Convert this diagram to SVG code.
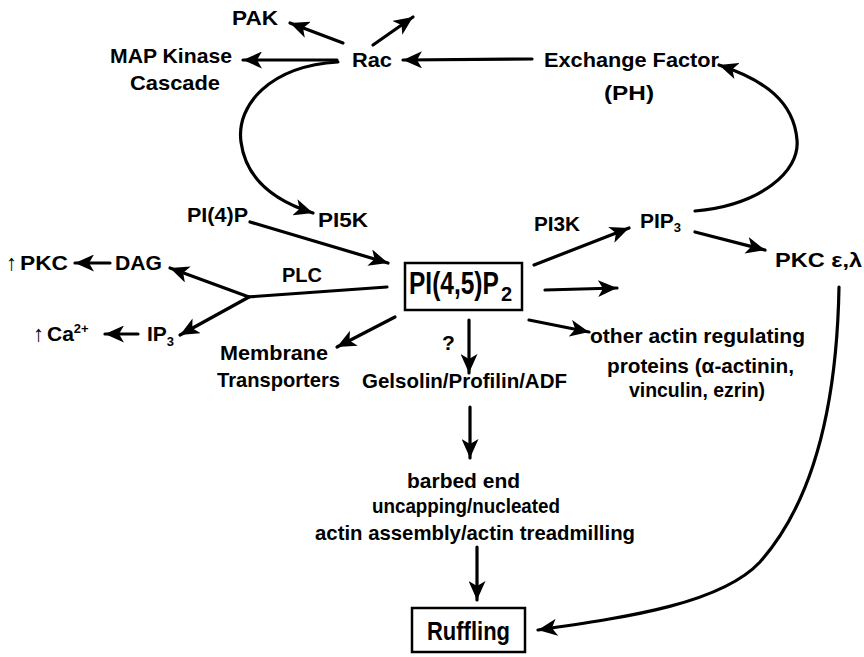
<svg xmlns="http://www.w3.org/2000/svg" width="864" height="657" viewBox="0 0 864 657">
  <style>
    .t { font-family: "Liberation Sans", Arial, sans-serif; font-weight: bold; font-size: 21px; fill: #000; }
    .big { font-size: 31px; }
    .ruf { font-size: 25px; }
    .sub { font-size: 13px; }
    .sub2 { font-size: 20px; }
    .arr { font-size: 22px; }
    .box { fill: #fff; stroke: #000; stroke-width: 2.5; }
    .c { fill: none; stroke: #000; stroke-width: 3.2; stroke-linecap: round; }
    .c path, .c line { marker-end: url(#ah); }
    .c .plain { marker-end: none; }
  </style>
  <defs>
    <marker id="ah" markerUnits="userSpaceOnUse" markerWidth="21" markerHeight="17" viewBox="0 0 21 17" refX="19" refY="8.5" orient="auto">
      <path d="M0,0 L19,8.5 L0,17 L5,8.5 z" fill="#000"/>
    </marker>
  </defs>
  <rect width="864" height="657" fill="#fff"/>

  <!-- connectors -->
  <g id="connectors" class="c">
    <line x1="343" y1="43" x2="290" y2="23"/>
    <line x1="373" y1="45" x2="413" y2="17"/>
    <line x1="337" y1="60" x2="243" y2="60"/>
    <line x1="532" y1="59" x2="403" y2="60"/>
    <path d="M338,62 C270,66 236,105 241,142 C246,180 275,201 313,213"/>
    <path d="M695,211 C760,205 800,172 797,140 C794,102 765,80 719,65"/>
    <line x1="250" y1="222" x2="388" y2="263"/>
    <path class="plain" d="M387,287 L247,297"/>
    <line x1="249" y1="297" x2="170" y2="268"/>
    <line x1="249" y1="297" x2="180" y2="335"/>
    <line x1="110" y1="263" x2="75" y2="263"/>
    <line x1="138" y1="334" x2="105" y2="334"/>
    <line x1="395" y1="317" x2="337" y2="347"/>
    <line x1="469" y1="320" x2="469" y2="373"/>
    <line x1="545" y1="290" x2="617" y2="288"/>
    <line x1="529" y1="320" x2="589" y2="332"/>
    <line x1="534" y1="265" x2="629" y2="228"/>
    <line x1="695" y1="232" x2="765" y2="250"/>
    <line x1="470" y1="407" x2="470" y2="458"/>
    <line x1="477" y1="547" x2="477" y2="600"/>
    <path d="M839,287 C837,400 815,500 760,562 C720,605 620,618 538,630"/>
  </g>

  <!-- nodes -->
  <g id="pak"><text class="t" x="232" y="25" textLength="46" lengthAdjust="spacingAndGlyphs">PAK</text></g>
  <g id="map-kinase">
    <text class="t" x="110" y="63" textLength="122" lengthAdjust="spacingAndGlyphs">MAP Kinase</text>
    <text class="t" x="130" y="90" textLength="90" lengthAdjust="spacingAndGlyphs">Cascade</text>
  </g>
  <g id="rac"><text class="t" x="352" y="67" textLength="40" lengthAdjust="spacingAndGlyphs">Rac</text></g>
  <g id="exchange-factor">
    <text class="t" x="544" y="67" textLength="175" lengthAdjust="spacingAndGlyphs">Exchange Factor</text>
    <text class="t" x="604" y="100" textLength="50" lengthAdjust="spacingAndGlyphs">(PH)</text>
  </g>
  <g id="pi4p"><text class="t" x="187" y="222" textLength="61" lengthAdjust="spacingAndGlyphs">PI(4)P</text></g>
  <g id="pi5k"><text class="t" x="318" y="227" textLength="50" lengthAdjust="spacingAndGlyphs">PI5K</text></g>
  <g id="pi3k"><text class="t" x="534" y="231" textLength="46" lengthAdjust="spacingAndGlyphs">PI3K</text></g>
  <g id="pip3"><text class="t" x="640" y="228">PIP<tspan class="sub" dy="4">3</tspan></text></g>
  <g id="pkc-el"><text class="t" x="775" y="267" textLength="87" lengthAdjust="spacingAndGlyphs">PKC ε,λ</text></g>
  <g id="pkc"><text class="t" x="6" y="270"><tspan class="arr">↑</tspan><tspan x="20" textLength="48" lengthAdjust="spacingAndGlyphs">PKC</tspan></text></g>
  <g id="dag"><text class="t" x="115" y="270" textLength="47" lengthAdjust="spacingAndGlyphs">DAG</text></g>
  <g id="plc"><text class="t" x="282" y="282" textLength="40" lengthAdjust="spacingAndGlyphs">PLC</text></g>
  <g id="ca"><text class="t" x="33" y="341"><tspan class="arr">↑</tspan><tspan x="47">Ca</tspan><tspan class="sub" dy="-8">2+</tspan></text></g>
  <g id="ip3"><text class="t" x="147" y="341">IP<tspan class="sub" dy="5">3</tspan></text></g>
  <g id="pip2">
    <rect class="box" x="405" y="263" width="117" height="47"/>
    <!-- condensed by a horizontal scale so the tall glyphs fit the box -->
    <text class="t big" transform="translate(409,294) scale(0.79,1)">PI(4,5)P</text>
    <text class="t sub2" x="501" y="301">2</text>
  </g>
  <g id="membrane-transporters">
    <text class="t" x="220" y="360" textLength="108" lengthAdjust="spacingAndGlyphs">Membrane</text>
    <text class="t" x="217" y="387" textLength="123" lengthAdjust="spacingAndGlyphs">Transporters</text>
  </g>
  <g id="question"><text class="t" x="442" y="350">?</text></g>
  <g id="gelsolin"><text class="t" x="362" y="388" textLength="205" lengthAdjust="spacingAndGlyphs">Gelsolin/Profilin/ADF</text></g>
  <g id="other-actin">
    <text class="t" x="590" y="343" textLength="215" lengthAdjust="spacingAndGlyphs">other actin regulating</text>
    <text class="t" x="607" y="373" textLength="187" lengthAdjust="spacingAndGlyphs">proteins (α-actinin,</text>
    <text class="t" x="629" y="397" textLength="136" lengthAdjust="spacingAndGlyphs">vinculin, ezrin)</text>
  </g>
  <g id="barbed-end">
    <text class="t" x="407" y="488" textLength="113" lengthAdjust="spacingAndGlyphs">barbed end</text>
    <text class="t" x="372" y="513" textLength="188" lengthAdjust="spacingAndGlyphs">uncapping/nucleated</text>
    <text class="t" x="315" y="540" textLength="320" lengthAdjust="spacingAndGlyphs">actin assembly/actin treadmilling</text>
  </g>
  <g id="ruffling">
    <rect class="box" x="412" y="608" width="113" height="44"/>
    <text class="t ruf" x="427" y="640" textLength="83" lengthAdjust="spacingAndGlyphs">Ruffling</text>
  </g>
</svg>
